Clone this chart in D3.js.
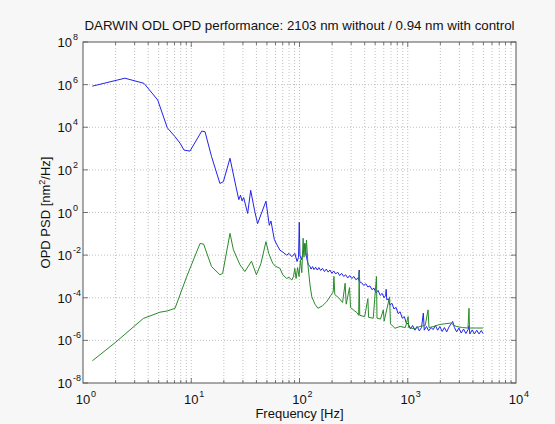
<!DOCTYPE html>
<html>
<head>
<meta charset="utf-8">
<script src="https://cdn.jsdelivr.net/npm/d3@7"></script>
<style>
  body { margin: 0; background: #f7f7f7; }
  svg { display: block; font-family: "Liberation Sans", Arial, sans-serif; }
</style>
</head>
<body>
<svg id="drawing_region"></svg>
<script>
// OPD PSD without control (blue)
const blueFreq = [1.22, 2.44, 3.66, 4.9, 6.0, 7.08, 7.87, 8.57, 9.73, 12.5, 13.4, 15.4, 18.4, 19.8, 22.8,
    25.9, 27.5, 28.5, 29.5, 30.5, 33.2, 35.4, 38.5, 41, 49, 52.6, 54.5, 58.5, 62, 66, 70, 76, 80, 85,
    90.5, 95, 98, 99.5, 101, 104, 108, 112, 116, 120.6, 125, 128, 132, 136, 141, 146, 151, 157, 163,
    170, 177, 184, 191, 199, 207, 216, 225, 235, 245, 256, 267, 279, 291, 304, 318, 332, 346, 352,
    356, 360, 376, 392, 410, 428, 447, 467, 488, 510, 532, 556, 580, 605, 625, 632, 640, 660, 686,
    715, 745, 780, 815, 850, 890, 930, 970, 1010, 1060, 1110, 1165, 1220, 1280, 1340, 1393, 1420,
    1490, 1560, 1640, 1720, 1800, 1890, 1980, 2080, 2180, 2290, 2400, 2520, 2600, 2700, 2830, 2970,
    3120, 3280, 3440, 3610, 3680, 3750, 3940, 4130, 4340, 4550, 4780, 4950];
const bluePsd = [8.5e5, 2.0e6, 1.15e6, 1.9e5, 9.5e3, 3.6e3, 1.8e3, 8.5e2, 7.6e2, 6.6e3, 6.2e3, 4.2e2, 23, 28, 350,
    16, 4.0, 6.5, 3.5, 5.0, 0.9, 11, 1.2, 0.3, 3.4, 0.25, 0.4, 0.055, 0.03, 0.017, 0.014, 0.01, 0.012, 0.0085,
    0.012, 0.005, 0.008, 0.35, 0.01, 0.006, 0.012, 0.035, 0.008, 0.0035, 0.0030, 0.0022, 0.0029, 0.0021, 0.0027, 0.0020, 0.0026, 0.0019, 0.0024,
    0.0017, 0.0022, 0.0016, 0.0020, 0.0014, 0.0018, 0.0013, 0.0016, 0.0011, 0.0014, 0.0010, 0.0012, 0.00085, 0.0011, 0.00080, 0.0010, 0.00070, 0.00085, 0.00065,
    0.0020, 0.00055, 0.00050, 0.00038, 0.00045, 0.00032, 0.00036, 0.00024, 0.00028, 0.00017, 0.00022, 0.00013, 0.00016, 0.00010, 0.00013, 0.00025, 0.00008, 0.00009, 4.5e-5,
    5.5e-5, 3.0e-5, 3.5e-5, 1.8e-5, 2.2e-5, 1.1e-5, 1.3e-5, 6.5e-6, 6.0e-6, 3.5e-6, 5.0e-6, 3.0e-6, 4.5e-6, 2.8e-6, 4.0e-6, 1.9e-5, 3.0e-6,
    4.5e-6, 2.8e-6, 4.0e-6, 3.2e-6, 5.0e-6, 3.0e-6, 4.5e-6, 2.6e-6, 4.0e-6, 2.5e-6, 4.2e-6, 6.0e-6, 7.8e-6, 4.0e-6, 2.5e-6, 3.8e-6,
    2.2e-6, 3.4e-6, 2.1e-6, 3.2e-6, 4.8e-6, 2.0e-6, 3.1e-6, 2.0e-6, 3.0e-6, 2.0e-6, 2.9e-6, 2.1e-6];

// OPD PSD with control (green)
const greenFreq = [1.22, 1.98, 3.61, 5.14, 6.0, 7.08, 9.08, 12.05, 13.0, 15.4, 18.4, 19.5, 22.8, 24.5, 28.2,
    31.3, 36, 40, 44, 49, 52, 56.5, 60, 66, 70, 76, 80, 85, 88, 90.5, 93, 96, 99, 102, 105, 108, 110,
    112, 114, 116, 120, 125, 130, 139, 148, 163, 178, 195, 205, 208, 212, 230, 250, 264, 270, 290, 296,
    320, 340, 352, 356, 360, 400, 428, 435, 480, 514, 520, 560, 595, 605, 680, 692, 762, 850, 950,
    1008, 1020, 1150, 1300, 1450, 1540, 1570, 1750, 1950, 2200, 2500, 2800, 3200, 3600, 3680, 3720,
    4200, 4950];
const greenPsd = [1.1e-7, 7.8e-7, 1.07e-5, 2.1e-5, 2.4e-5, 3.2e-5, 9.8e-4, 3.5e-2, 3.3e-2, 2.9e-3, 1.2e-3, 1.4e-3, 0.105, 1.8e-2, 3.5e-3,
    1.7e-3, 5.2e-3, 1.2e-3, 4.0e-3, 4.3e-2, 1.2e-2, 4.2e-3, 3.0e-3, 2.4e-3, 1.2e-3, 8.1e-4, 9.0e-4, 6.8e-4, 1.0e-3, 2.4e-3, 8.0e-4, 2.6e-3, 1.0e-3, 6.0e-3, 1.5e-3, 6.2e-2, 8.0e-3,
    3.5e-2, 1.0e-2, 5.1e-2, 3.0e-3, 4.0e-4, 1.1e-4, 5.0e-5, 3.2e-5, 4.2e-5, 6.5e-5, 1.3e-4, 1.9e-4, 1.0e-3, 1.4e-4, 1.0e-4, 6.0e-5, 4.8e-4, 5.0e-5, 3.0e-4, 3.5e-5,
    2.5e-5, 2.0e-5, 1.5e-5, 1.6e-3, 1.5e-5, 1.3e-5, 9.0e-5, 1.2e-5, 1.1e-5, 1.0e-3, 1.1e-5, 1.0e-5, 2.7e-5, 8.0e-6, 1.1e-4, 6.0e-6, 3.7e-6, 4.5e-6, 4.0e-6,
    1.3e-5, 4.0e-6, 3.5e-6, 4.5e-6, 5.0e-6, 2.7e-5, 4.0e-6, 4.5e-6, 5.5e-6, 6.0e-6, 6.5e-6, 4.5e-6, 4.0e-6, 3.8e-6, 3.2e-5, 3.8e-6,
    3.8e-6, 3.8e-6];

const xTicks = [1, 10, 100, 1000, 10000];
const xTickExps = ["0", "1", "2", "3", "4"];
const yTicks = [1e-8, 1e-6, 1e-4, 1e-2, 1, 1e2, 1e4, 1e6, 1e8];
const yTickExps = ["-8", "-6", "-4", "-2", "0", "2", "4", "6", "8"];

const titleText = "DARWIN ODL OPD performance: 2103 nm without / 0.94 nm with control";

class PsdChart {

    constructor( config ) {
        this.config = {
            parent: config.parent,
            width: config.width || 555,
            height: config.height || 424,
            margin: config.margin || {top: 42, right: 39, bottom: 41, left: 83}
        };
        this.init();
    }

    init() {
        let self = this;
        const m = self.config.margin;
        self.inner_width = self.config.width - m.left - m.right;
        self.inner_height = self.config.height - m.top - m.bottom;

        self.svg = d3.select( self.config.parent )
            .attr('width', self.config.width)
            .attr('height', self.config.height);

        self.chart = self.svg.append('g')
            .attr('transform', `translate(${m.left}, ${m.top})`);

        self.xscale = d3.scaleLog()
            .domain([1, 10000])
            .range([0, self.inner_width]);

        self.yscale = d3.scaleLog()
            .domain([1e-8, 1e8])
            .range([self.inner_height, 0]);

        self.line = d3.line()
            .x(d => self.xscale(d[0]))
            .y(d => self.yscale(d[1]));
    }

    render() {
        let self = this;
        const W = self.inner_width, H = self.inner_height;

        self.chart.append('rect')
            .attr('width', W).attr('height', H)
            .attr('fill', '#ffffff');

        // minor + major x grid (2..9 in every decade)
        const xgrid = [];
        for (let e = 0; e < 4; e++)
            for (let k = 1; k < 10; k++) xgrid.push(k * Math.pow(10, e));
        xgrid.shift();

        self.chart.append('g').selectAll('line')
            .data(xgrid).join('line')
            .attr('x1', d => self.xscale(d)).attr('x2', d => self.xscale(d))
            .attr('y1', 0).attr('y2', H)
            .attr('stroke', '#b0b0b0').attr('stroke-width', 0.8)
            .attr('stroke-dasharray', '1,2');

        self.chart.append('g').selectAll('line')
            .data(yTicks.slice(1, -1)).join('line')
            .attr('x1', 0).attr('x2', W)
            .attr('y1', d => self.yscale(d)).attr('y2', d => self.yscale(d))
            .attr('stroke', '#b0b0b0').attr('stroke-width', 0.8)
            .attr('stroke-dasharray', '1,2');

        // ticks (inward) on all four sides
        const ticks = self.chart.append('g').attr('stroke', '#555').attr('stroke-width', 0.8);
        xgrid.forEach(d => {
            const len = xTicks.includes(d) ? 5 : 3;
            const x = self.xscale(d);
            ticks.append('line').attr('x1', x).attr('x2', x).attr('y1', H).attr('y2', H - len);
            ticks.append('line').attr('x1', x).attr('x2', x).attr('y1', 0).attr('y2', len);
        });
        yTicks.forEach(d => {
            const y = self.yscale(d);
            ticks.append('line').attr('x1', 0).attr('x2', 5).attr('y1', y).attr('y2', y);
            ticks.append('line').attr('x1', W).attr('x2', W - 5).attr('y1', y).attr('y2', y);
        });

        // curves
        self.chart.append('defs').append('clipPath').attr('id', 'clip')
            .append('rect').attr('width', W).attr('height', H);

        const blue = blueFreq.map((f, i) => [f, bluePsd[i]]);
        const green = greenFreq.map((f, i) => [f, greenPsd[i]]);

        self.chart.append('path')
            .datum(blue)
            .attr('clip-path', 'url(#clip)')
            .attr('d', self.line)
            .attr('fill', 'none')
            .attr('stroke', '#2222ee')
            .attr('stroke-width', 1);

        self.chart.append('path')
            .datum(green)
            .attr('clip-path', 'url(#clip)')
            .attr('d', self.line)
            .attr('fill', 'none')
            .attr('stroke', '#2a8a2a')
            .attr('stroke-width', 1);

        // box
        self.chart.append('rect')
            .attr('width', W).attr('height', H)
            .attr('fill', 'none')
            .attr('stroke', '#555').attr('stroke-width', 1);

        // x tick labels
        const xl = self.chart.append('g').attr('font-size', 13).attr('fill', '#111');
        xTicks.forEach((d, i) => {
            const x = self.xscale(d);
            xl.append('text').attr('x', x).attr('y', H + 21)
                .attr('text-anchor', 'middle').text('10');
            xl.append('text').attr('x', x + 8).attr('y', H + 14)
                .attr('font-size', 9).text(xTickExps[i]);
        });

        // y tick labels
        const yl = self.chart.append('g').attr('font-size', 13).attr('fill', '#111');
        yTicks.forEach((d, i) => {
            const y = self.yscale(d);
            yl.append('text').attr('x', -11).attr('y', y + 5)
                .attr('text-anchor', 'end').text('10');
            yl.append('text').attr('x', -10).attr('y', y - 2)
                .attr('font-size', 9).text(yTickExps[i]);
        });

        // axis labels and title
        self.chart.append('text')
            .attr('x', W / 2).attr('y', H + 35)
            .attr('text-anchor', 'middle')
            .attr('font-size', 13).attr('fill', '#111')
            .text('Frequency [Hz]');

        const ylab = self.chart.append('text')
            .attr('transform', `translate(-33, ${H / 2}) rotate(-90)`)
            .attr('text-anchor', 'middle')
            .attr('font-size', 13).attr('fill', '#111');
        ylab.append('tspan').text('OPD PSD [nm');
        ylab.append('tspan').attr('font-size', 9).attr('dy', -5).text('2');
        ylab.append('tspan').attr('dy', 5).text('/Hz]');

        self.chart.append('text')
            .attr('x', W / 2).attr('y', -12)
            .attr('text-anchor', 'middle')
            .attr('font-size', 13.3).attr('fill', '#111')
            .text(titleText);
    }
}

const chart = new PsdChart({ parent: '#drawing_region', width: 555, height: 424 });
chart.render();
</script>
</body>
</html>
